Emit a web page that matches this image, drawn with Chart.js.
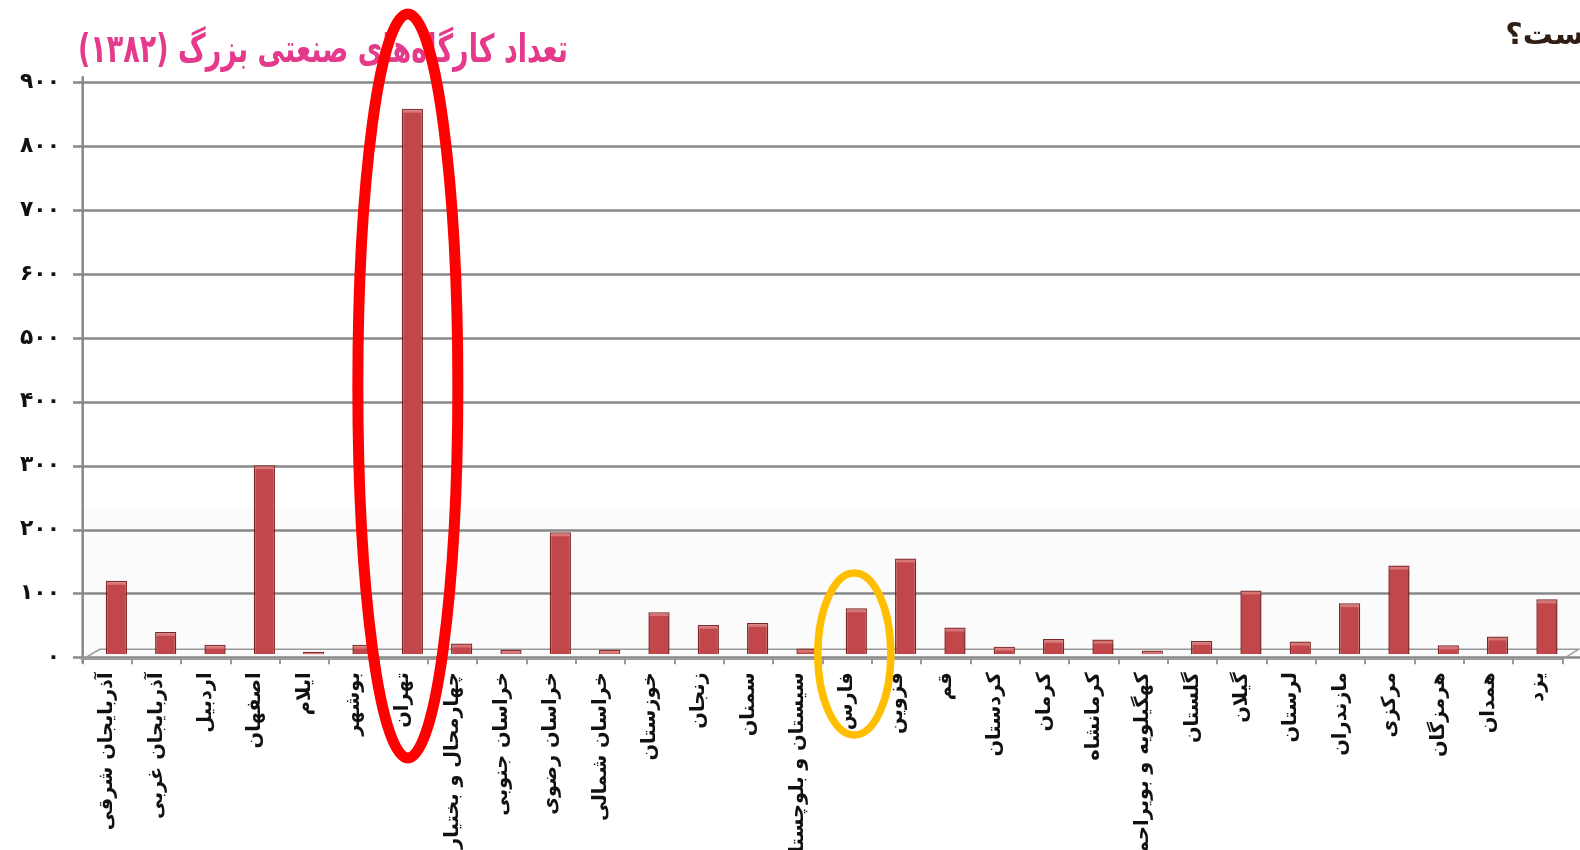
<!DOCTYPE html>
<html>
<head>
<meta charset="utf-8">
<script src="https://cdn.jsdelivr.net/npm/chart.js@4/dist/chart.umd.min.js"></script>
<style>
  html, body { margin: 0; padding: 0; background: #ffffff; overflow: hidden; }
  #wrap { width: 1580px; height: 850px; position: relative; }
  canvas { display: block; }
</style>
</head>
<body>
<div id="wrap"><canvas id="c" width="1580" height="850"></canvas></div>
<script>
// ---- data ----
const categories = [
  'آذربایجان شرقی', 'آذربایجان غربی', 'اردبیل', 'اصفهان', 'ایلام', 'بوشهر', 'تهران',
  'چهارمحال و بختیاری', 'خراسان جنوبی', 'خراسان رضوی', 'خراسان شمالی', 'خوزستان',
  'زنجان', 'سمنان', 'سیستان و بلوچستان', 'فارس', 'قزوین', 'قم', 'کردستان', 'کرمان',
  'کرمانشاه', 'کهگیلویه و بویراحمد', 'گلستان', 'گیلان', 'لرستان', 'مازندران', 'مرکزی',
  'هرمزگان', 'همدان', 'یزد'
];
const workshops = [
  115, 35, 15, 296, 4, 15, 854,
  17, 7, 191, 7, 66,
  46, 49, 9, 72, 150, 42, 12, 24,
  23, 6, 21, 100, 20, 80, 139,
  14, 28, 86
];
const yTickValues = [0, 100, 200, 300, 400, 500, 600, 700, 800, 900];
const chartTitle = 'تعداد کارگاه‌های صنعتی بزرگ (۱۳۸۲)';
const cornerText = 'ست؟';
const highlightRed = 'تهران';
const highlightOrange = 'فارس';

const faDigits = '۰۱۲۳۴۵۶۷۸۹';
const toFa = v => String(v).replace(/\d/g, d => faDigits[d]);

const FONT = '"DejaVu Sans", "Noto Sans", sans-serif';

// font sizes chosen so that text lengths match the reference
const mctx = document.createElement('canvas').getContext('2d');
mctx.font = 'bold 20px ' + FONT;
const lblSize = Math.max(12, Math.min(22, 20 * 158 / mctx.measureText(categories[0]).width));
const tickSize = Math.max(14, Math.min(24, 20 * 40 / mctx.measureText(toFa(900)).width));

const decor = {
  id: 'decor',
  beforeDraw(chart) {
    const ctx = chart.ctx;
    ctx.save();
    ctx.fillStyle = '#ffffff';
    ctx.fillRect(0, 0, chart.width, chart.height);
    const y = chart.scales.y;
    ctx.fillStyle = '#fcfbfb';
    ctx.fillRect(84, y.getPixelForValue(232), chart.width - 84, y.getPixelForValue(0) - y.getPixelForValue(232));
    ctx.restore();
  },
  beforeDatasetsDraw(chart) {
    const ctx = chart.ctx;
    const y = chart.scales.y;
    const area = chart.chartArea;
    ctx.save();
    ctx.strokeStyle = '#888888';
    ctx.lineWidth = 2.5;
    yTickValues.forEach(v => {
      const py = Math.round(y.getPixelForValue(v)) + 0.5;
      ctx.beginPath();
      ctx.moveTo(73, py);
      ctx.lineTo(chart.width, py);
      ctx.stroke();
    });
    ctx.beginPath();
    ctx.moveTo(area.left, y.getPixelForValue(900) - 6);
    ctx.lineTo(area.left, area.bottom + 6);
    ctx.stroke();
    ctx.lineWidth = 1.5;
    ctx.strokeStyle = '#9a9a9a';
    const fy = area.bottom + 2, by = area.bottom - 8;
    ctx.beginPath();
    ctx.moveTo(area.left, fy);
    ctx.lineTo(area.right, fy);
    ctx.lineTo(area.right + 16, by);
    ctx.lineTo(area.left + 17, by);
    ctx.closePath();
    ctx.stroke();
    ctx.restore();
    ctx.save();
    ctx.translate(9, -3);
  },
  afterDatasetsDraw(chart) {
    const ctx = chart.ctx;
    const meta = chart.getDatasetMeta(0);
    ctx.fillStyle = 'rgba(255,200,200,0.35)';
    meta.data.forEach(bar => {
      const w = bar.width;
      const h = Math.min(3, bar.base - bar.y);
      if (h > 0) ctx.fillRect(bar.x - w / 2 + 1, bar.y + 1, w - 2, h);
    });
    ctx.restore();
  },
  afterDraw(chart) {
    const ctx = chart.ctx;
    const x = chart.scales.x;
    ctx.save();
    ctx.direction = 'rtl';
    ctx.textAlign = 'right';
    ctx.textBaseline = 'alphabetic';
    ctx.font = 'bold 39px ' + FONT;
    const tw = ctx.measureText(chartTitle).width;
    const sx = Math.min(1, 490 / tw);
    ctx.fillStyle = '#e5398b';
    ctx.translate(568, 62);
    ctx.scale(sx, 1);
    ctx.fillText(chartTitle, 0, 0);
    ctx.restore();

    ctx.save();
    ctx.direction = 'rtl';
    ctx.textAlign = 'right';
    ctx.font = 'bold 30px ' + FONT;
    ctx.fillStyle = '#2e1e14';
    ctx.fillText(cornerText, 1584, 44);
    ctx.restore();

    const xr = x.getPixelForValue(categories.indexOf(highlightRed)) + 9 - 4.5;
    const xo = x.getPixelForValue(categories.indexOf(highlightOrange)) + 9 - 2;
    ctx.save();
    ctx.lineWidth = 11;
    ctx.strokeStyle = '#ff0000';
    ctx.beginPath();
    ctx.ellipse(xr, 386, 50, 372, 0, 0, Math.PI * 2);
    ctx.stroke();
    ctx.lineWidth = 7.5;
    ctx.strokeStyle = '#ffbe00';
    ctx.beginPath();
    ctx.ellipse(xo, 654, 36.5, 81, 0, 0, Math.PI * 2);
    ctx.stroke();
    ctx.restore();
  }
};

new Chart(document.getElementById('c'), {
  type: 'bar',
  data: {
    labels: categories,
    datasets: [{
      data: workshops,
      backgroundColor: '#c2474b',
      borderColor: '#7a2424',
      borderWidth: 1.5,
      borderSkipped: 'bottom',
      categoryPercentage: 1,
      barPercentage: 0.43
    }]
  },
  options: {
    responsive: false,
    animation: false,
    events: [],
    layout: { padding: { top: 82.3, right: 17.4, left: 0, bottom: 0 } },
    plugins: {
      legend: { display: false },
      title: { display: false },
      tooltip: { enabled: false }
    },
    scales: {
      x: {
        type: 'category',
        offset: true,
        border: { display: false },
        grid: {
          offset: true,
          drawOnChartArea: false,
          drawTicks: true,
          tickLength: 7,
          color: '#9a9a9a',
          lineWidth: 2
        },
        ticks: {
          autoSkip: false,
          minRotation: 90,
          maxRotation: 90,
          padding: 8,
          color: '#111111',
          font: { family: FONT, size: lblSize, weight: 'bold' }
        },
        afterFit(scale) { scale.height = 850 - 657.3; }
      },
      y: {
        min: 0,
        max: 900,
        border: { display: false },
        grid: { display: false, drawTicks: false },
        ticks: {
          stepSize: 100,
          padding: 22.7,
          color: '#111111',
          font: { family: FONT, size: tickSize, weight: 'bold' },
          callback: v => toFa(v)
        },
        afterFit(scale) { scale.width = 82.7; }
      }
    }
  },
  plugins: [decor]
});
</script>
</body>
</html>
